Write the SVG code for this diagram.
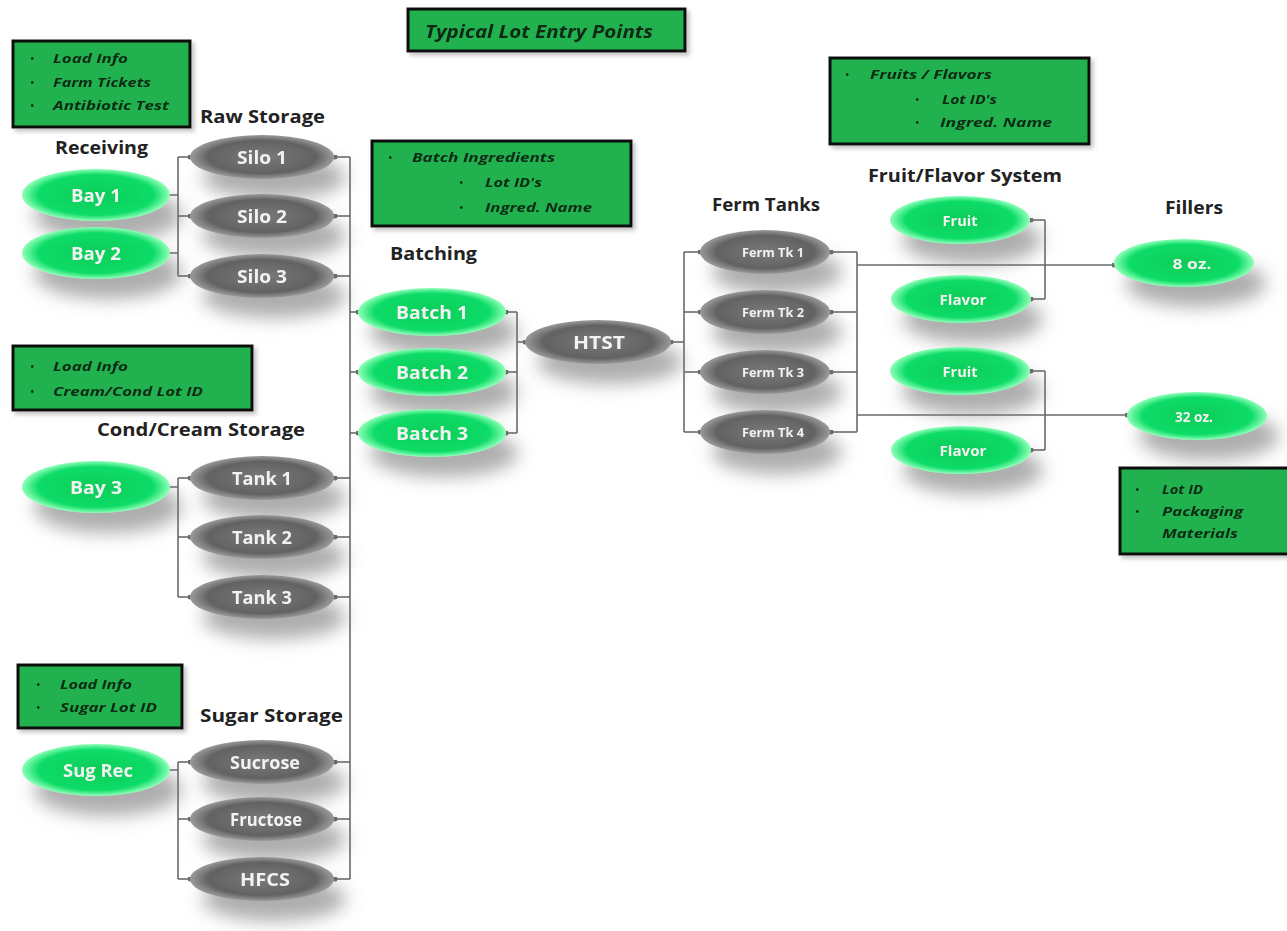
<svg xmlns="http://www.w3.org/2000/svg" width="1287" height="931" viewBox="0 0 1287 931">
<style>
.hd{font-family:"Open Sans","Liberation Sans",sans-serif;font-weight:bold;font-size:18px;fill:#222}
.lb{font-family:"Open Sans","Liberation Sans",sans-serif;font-weight:bold;font-size:17px;fill:#f2f2f2;text-anchor:middle;dominant-baseline:central}
.sm{font-size:12px}
.md{font-size:15px}
.bx{fill:#21b14f;stroke:#111;stroke-width:3}
.bt{font-family:"Open Sans","Liberation Sans",sans-serif;font-style:italic;font-weight:bold;font-size:12.5px;fill:#0e2a12}
.bu{font-family:"Open Sans","Liberation Sans",sans-serif;font-size:12px;fill:#0e2a12}
.ttl{font-family:"Open Sans","Liberation Sans",sans-serif;font-style:italic;font-weight:bold;font-size:17px;fill:#112a14;dominant-baseline:central}
.ln{fill:none;stroke:#6a6a6a;stroke-width:1.6}
.st{fill:none;stroke:#6a6a6a;stroke-width:1.6;marker-end:url(#dot)}
.g{fill:url(#gg)}
.k{fill:url(#kg)}
</style>
<defs>
<radialGradient id="gg" cx="50%" cy="50%" r="50%">
<stop offset="0" stop-color="#0ccc58"/>
<stop offset="0.78" stop-color="#0fdc68"/>
<stop offset="1" stop-color="#8dffb8"/>
</radialGradient>
<radialGradient id="kg" cx="50%" cy="50%" r="50%">
<stop offset="0" stop-color="#7a7a7a"/>
<stop offset="0.75" stop-color="#626262"/>
<stop offset="1" stop-color="#9a9a9a"/>
</radialGradient>
<filter id="sh" x="-30%" y="-50%" width="170%" height="260%">
<feGaussianBlur in="SourceAlpha" stdDeviation="9"/>
<feOffset dx="12" dy="20" result="b"/>
<feFlood flood-color="#777" flood-opacity="0.6"/>
<feComposite in2="b" operator="in"/>
<feMerge><feMergeNode/><feMergeNode in="SourceGraphic"/></feMerge>
</filter>
<filter id="bs" x="-10%" y="-20%" width="125%" height="150%">
<feGaussianBlur in="SourceAlpha" stdDeviation="2"/>
<feOffset dx="3" dy="3" result="b"/>
<feFlood flood-color="#888" flood-opacity="0.5"/>
<feComposite in2="b" operator="in"/>
<feMerge><feMergeNode/><feMergeNode in="SourceGraphic"/></feMerge>
</filter>
<marker id="dot" viewBox="0 0 6 6" refX="3" refY="3" markerWidth="5" markerHeight="5" markerUnits="userSpaceOnUse">
<circle cx="3" cy="3" r="3" fill="#6a6a6a"/>
</marker>
</defs>
<rect width="1287" height="931" fill="#fff"/>

<!-- Info boxes -->
<g id="title-box" filter="url(#bs)"><rect class="bx" x="408" y="9" width="277" height="42"/><text class="ttl" x="425" y="31" textLength="228" lengthAdjust="spacingAndGlyphs">Typical Lot Entry Points</text></g>
<g id="box-receiving" filter="url(#bs)"><rect class="bx" x="13" y="41" width="177" height="86"/>
<text class="bu" x="30" y="63">•</text><text class="bt" x="53" y="63" textLength="75" lengthAdjust="spacingAndGlyphs">Load Info</text>
<text class="bu" x="30" y="87">•</text><text class="bt" x="53" y="87" textLength="98" lengthAdjust="spacingAndGlyphs">Farm Tickets</text>
<text class="bu" x="30" y="110">•</text><text class="bt" x="53" y="110" textLength="116" lengthAdjust="spacingAndGlyphs">Antibiotic Test</text></g>
<g id="box-batch" filter="url(#bs)"><rect class="bx" x="372" y="141" width="259" height="85"/>
<text class="bu" x="388" y="162">•</text><text class="bt" x="412" y="162" textLength="143" lengthAdjust="spacingAndGlyphs">Batch Ingredients</text>
<text class="bu" x="459" y="187">•</text><text class="bt" x="485" y="187" textLength="57" lengthAdjust="spacingAndGlyphs">Lot ID's</text>
<text class="bu" x="459" y="212">•</text><text class="bt" x="485" y="212" textLength="107" lengthAdjust="spacingAndGlyphs">Ingred. Name</text></g>
<g id="box-fruit" filter="url(#bs)"><rect class="bx" x="830" y="58" width="259" height="86"/>
<text class="bu" x="845" y="79">•</text><text class="bt" x="870" y="79" textLength="122" lengthAdjust="spacingAndGlyphs">Fruits / Flavors</text>
<text class="bu" x="915" y="104">•</text><text class="bt" x="942" y="104" textLength="55" lengthAdjust="spacingAndGlyphs">Lot ID's</text>
<text class="bu" x="915" y="127">•</text><text class="bt" x="940" y="127" textLength="112" lengthAdjust="spacingAndGlyphs">Ingred. Name</text></g>
<g id="box-fillers" filter="url(#bs)"><rect class="bx" x="1120" y="468" width="170" height="86"/>
<text class="bu" x="1135" y="494">•</text><text class="bt" x="1162" y="494" textLength="41" lengthAdjust="spacingAndGlyphs">Lot ID</text>
<text class="bu" x="1135" y="516">•</text><text class="bt" x="1162" y="516" textLength="81" lengthAdjust="spacingAndGlyphs">Packaging</text>
<text class="bt" x="1162" y="538" textLength="76" lengthAdjust="spacingAndGlyphs">Materials</text></g>
<g id="box-cond" filter="url(#bs)"><rect class="bx" x="13" y="346" width="239" height="64"/>
<text class="bu" x="30" y="371">•</text><text class="bt" x="53" y="371" textLength="75" lengthAdjust="spacingAndGlyphs">Load Info</text>
<text class="bu" x="30" y="396">•</text><text class="bt" x="53" y="396" textLength="150" lengthAdjust="spacingAndGlyphs">Cream/Cond Lot ID</text></g>
<g id="box-sugar" filter="url(#bs)"><rect class="bx" x="18" y="665" width="164" height="63"/>
<text class="bu" x="36" y="689">•</text><text class="bt" x="60" y="689" textLength="72" lengthAdjust="spacingAndGlyphs">Load Info</text>
<text class="bu" x="36" y="712">•</text><text class="bt" x="60" y="712" textLength="97" lengthAdjust="spacingAndGlyphs">Sugar Lot ID</text></g>

<!-- Headings -->
<g id="headings">
<text class="hd" x="200" y="123" textLength="125" lengthAdjust="spacingAndGlyphs">Raw Storage</text>
<text class="hd" x="55" y="154" textLength="93" lengthAdjust="spacingAndGlyphs">Receiving</text>
<text class="hd" x="390" y="260" textLength="87" lengthAdjust="spacingAndGlyphs">Batching</text>
<text class="hd" x="97" y="436" textLength="208" lengthAdjust="spacingAndGlyphs">Cond/Cream Storage</text>
<text class="hd" x="200" y="722" textLength="143" lengthAdjust="spacingAndGlyphs">Sugar Storage</text>
<text class="hd" x="712" y="211" textLength="108" lengthAdjust="spacingAndGlyphs">Ferm Tanks</text>
<text class="hd" x="868" y="182" textLength="194" lengthAdjust="spacingAndGlyphs">Fruit/Flavor System</text>
<text class="hd" x="1165" y="214" textLength="58" lengthAdjust="spacingAndGlyphs">Fillers</text>
</g>

<!-- Connectors -->
<g id="connectors">
<path class="ln" d="M170,195H178M170,253H178M178,157V276"/>
<path class="st" d="M178,157H190"/><path class="st" d="M178,216H190"/><path class="st" d="M178,276H190"/>
<path class="ln" d="M170,487H178M178,478V597"/>
<path class="st" d="M178,478H190"/><path class="st" d="M178,537H190"/><path class="st" d="M178,597H190"/>
<path class="ln" d="M170,770H178M178,762V879"/>
<path class="st" d="M178,762H190"/><path class="st" d="M178,819H190"/><path class="st" d="M178,879H190"/>
<path class="ln" d="M350,157V879"/>
<path class="st" d="M350,157H335"/><path class="st" d="M350,216H335"/><path class="st" d="M350,276H335"/>
<path class="st" d="M350,478H335"/><path class="st" d="M350,537H335"/><path class="st" d="M350,597H335"/>
<path class="st" d="M350,762H335"/><path class="st" d="M350,819H335"/><path class="st" d="M350,879H335"/>
<path class="st" d="M350,312H358"/><path class="st" d="M350,372H358"/><path class="st" d="M350,433H358"/>
<path class="ln" d="M517,312V433"/>
<path class="st" d="M517,312H506"/><path class="st" d="M517,372H506"/><path class="st" d="M517,433H506"/>
<path class="st" d="M517,342H525"/>
<path class="st" d="M684,342H671"/>
<path class="ln" d="M684,252V432"/>
<path class="st" d="M684,252H700"/><path class="st" d="M684,312H700"/><path class="st" d="M684,372H700"/><path class="st" d="M684,432H700"/>
<path class="ln" d="M857,252V432"/>
<path class="st" d="M857,252H831"/><path class="st" d="M857,312H831"/><path class="st" d="M857,372H831"/><path class="st" d="M857,432H831"/>
<path class="st" d="M857,265H1114"/>
<path class="st" d="M857,415H1127"/>
<path class="ln" d="M1045,220V299M1045,371V450"/>
<path class="st" d="M1045,220H1031"/><path class="st" d="M1045,299H1031"/>
<path class="st" d="M1045,371H1031"/><path class="st" d="M1045,450H1031"/>
</g>

<!-- Nodes -->
<g id="bay1" filter="url(#sh)"><ellipse class="g" cx="96" cy="195" rx="74" ry="26"/><text class="lb" x="96" y="195" textLength="50" lengthAdjust="spacingAndGlyphs">Bay 1</text></g>
<g id="bay2" filter="url(#sh)"><ellipse class="g" cx="96" cy="253" rx="74" ry="26"/><text class="lb" x="96" y="253" textLength="50" lengthAdjust="spacingAndGlyphs">Bay 2</text></g>
<g id="silo1" filter="url(#sh)"><ellipse class="k" cx="262" cy="157" rx="72" ry="22"/><text class="lb" x="262" y="157" textLength="50" lengthAdjust="spacingAndGlyphs">Silo 1</text></g>
<g id="silo2" filter="url(#sh)"><ellipse class="k" cx="262" cy="216" rx="72" ry="22"/><text class="lb" x="262" y="216" textLength="50" lengthAdjust="spacingAndGlyphs">Silo 2</text></g>
<g id="silo3" filter="url(#sh)"><ellipse class="k" cx="262" cy="276" rx="72" ry="22"/><text class="lb" x="262" y="276" textLength="50" lengthAdjust="spacingAndGlyphs">Silo 3</text></g>
<g id="bay3" filter="url(#sh)"><ellipse class="g" cx="96" cy="487" rx="74" ry="26"/><text class="lb" x="96" y="487" textLength="52" lengthAdjust="spacingAndGlyphs">Bay 3</text></g>
<g id="tank1" filter="url(#sh)"><ellipse class="k" cx="262" cy="478" rx="72" ry="22"/><text class="lb" x="262" y="478" textLength="60" lengthAdjust="spacingAndGlyphs">Tank 1</text></g>
<g id="tank2" filter="url(#sh)"><ellipse class="k" cx="262" cy="537" rx="72" ry="22"/><text class="lb" x="262" y="537" textLength="60" lengthAdjust="spacingAndGlyphs">Tank 2</text></g>
<g id="tank3" filter="url(#sh)"><ellipse class="k" cx="262" cy="597" rx="72" ry="22"/><text class="lb" x="262" y="597" textLength="60" lengthAdjust="spacingAndGlyphs">Tank 3</text></g>
<g id="sugrec" filter="url(#sh)"><ellipse class="g" cx="96" cy="770" rx="74" ry="26"/><text class="lb" x="98" y="770" textLength="70" lengthAdjust="spacingAndGlyphs">Sug Rec</text></g>
<g id="sucrose" filter="url(#sh)"><ellipse class="k" cx="262" cy="762" rx="72" ry="22"/><text class="lb" x="265" y="762" textLength="70" lengthAdjust="spacingAndGlyphs">Sucrose</text></g>
<g id="fructose" filter="url(#sh)"><ellipse class="k" cx="262" cy="819" rx="72" ry="22"/><text class="lb" x="266" y="819" textLength="72" lengthAdjust="spacingAndGlyphs">Fructose</text></g>
<g id="hfcs" filter="url(#sh)"><ellipse class="k" cx="262" cy="879" rx="72" ry="22"/><text class="lb" x="265" y="879" textLength="50" lengthAdjust="spacingAndGlyphs">HFCS</text></g>
<g id="batch1" filter="url(#sh)"><ellipse class="g" cx="432" cy="312" rx="74" ry="24"/><text class="lb" x="432" y="312" textLength="72" lengthAdjust="spacingAndGlyphs">Batch 1</text></g>
<g id="batch2" filter="url(#sh)"><ellipse class="g" cx="432" cy="372" rx="74" ry="24"/><text class="lb" x="432" y="372" textLength="72" lengthAdjust="spacingAndGlyphs">Batch 2</text></g>
<g id="batch3" filter="url(#sh)"><ellipse class="g" cx="432" cy="433" rx="74" ry="24"/><text class="lb" x="432" y="433" textLength="72" lengthAdjust="spacingAndGlyphs">Batch 3</text></g>
<g id="htst" filter="url(#sh)"><ellipse class="k" cx="598" cy="342" rx="73" ry="22"/><text class="lb" x="599" y="342" textLength="52" lengthAdjust="spacingAndGlyphs">HTST</text></g>
<g id="ferm1" filter="url(#sh)"><ellipse class="k" cx="765" cy="252" rx="65" ry="22"/><text class="lb sm" x="773" y="252" textLength="62" lengthAdjust="spacingAndGlyphs">Ferm Tk 1</text></g>
<g id="ferm2" filter="url(#sh)"><ellipse class="k" cx="765" cy="312" rx="65" ry="22"/><text class="lb sm" x="773" y="312" textLength="62" lengthAdjust="spacingAndGlyphs">Ferm Tk 2</text></g>
<g id="ferm3" filter="url(#sh)"><ellipse class="k" cx="765" cy="372" rx="65" ry="22"/><text class="lb sm" x="773" y="372" textLength="62" lengthAdjust="spacingAndGlyphs">Ferm Tk 3</text></g>
<g id="ferm4" filter="url(#sh)"><ellipse class="k" cx="765" cy="432" rx="65" ry="22"/><text class="lb sm" x="773" y="432" textLength="62" lengthAdjust="spacingAndGlyphs">Ferm Tk 4</text></g>
<g id="fruit1" filter="url(#sh)"><ellipse class="g" cx="960" cy="220" rx="70" ry="24"/><text class="lb md" x="960" y="220" textLength="35" lengthAdjust="spacingAndGlyphs">Fruit</text></g>
<g id="flavor1" filter="url(#sh)"><ellipse class="g" cx="961" cy="299" rx="70" ry="24"/><text class="lb md" x="963" y="299" textLength="47" lengthAdjust="spacingAndGlyphs">Flavor</text></g>
<g id="fruit2" filter="url(#sh)"><ellipse class="g" cx="960" cy="371" rx="70" ry="24"/><text class="lb md" x="960" y="371" textLength="35" lengthAdjust="spacingAndGlyphs">Fruit</text></g>
<g id="flavor2" filter="url(#sh)"><ellipse class="g" cx="961" cy="450" rx="70" ry="24"/><text class="lb md" x="963" y="450" textLength="47" lengthAdjust="spacingAndGlyphs">Flavor</text></g>
<g id="oz8" filter="url(#sh)"><ellipse class="g" cx="1184" cy="263" rx="70" ry="24"/><text class="lb md" x="1192" y="263" textLength="39" lengthAdjust="spacingAndGlyphs">8 oz.</text></g>
<g id="oz32" filter="url(#sh)"><ellipse class="g" cx="1197" cy="416" rx="70" ry="24"/><text class="lb md" x="1194" y="416" textLength="38" lengthAdjust="spacingAndGlyphs">32 oz.</text></g>
</svg>
